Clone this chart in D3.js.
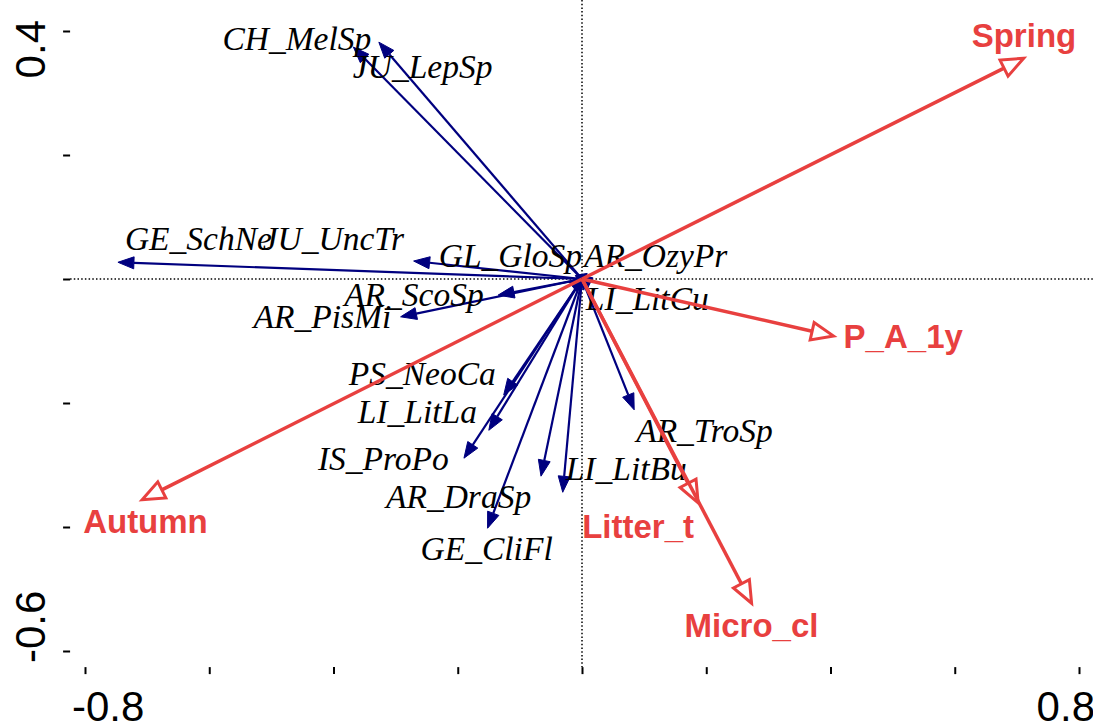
<!DOCTYPE html>
<html>
<head>
<meta charset="utf-8">
<script src="https://cdnjs.cloudflare.com/ajax/libs/d3/7.8.5/d3.min.js"></script>
<style>
  body { margin: 0; background: #fff; }
  svg { display: block; }
</style>
</head>
<body>
<svg id="chart" width="1093" height="725"></svg>
<script>
// species scores (axis 1, axis 2)
var species = ["CH_MelSp", "JU_LepSp", "GE_SchNe", "JU_UncTr", "GL_GloSp", "AR_OzyPr",
  "AR_ScoSp", "AR_PisMi", "LI_LitCu", "PS_NeoCa", "LI_LitLa", "IS_ProPo",
  "AR_DraSp", "GE_CliFl", "LI_LitBu", "AR_TroSp"];
var speciesX = [-0.368, -0.327, -0.747, -0.271, -0.010, 0.005,
  -0.135, -0.292, 0.003, -0.126, -0.150, -0.190,
  -0.066, -0.152, -0.031, 0.084];
var speciesY = [0.374, 0.382, 0.027, 0.029, 0.005, 0.004,
  -0.026, -0.061, -0.018, -0.187, -0.244, -0.289,
  -0.318, -0.402, -0.344, -0.211];

// environmental variables
var envVars = ["Spring", "P_A_1y", "Autumn", "Litter_t", "Micro_cl"];
var envX = [0.711, 0.405, -0.708, 0.187, 0.273];
var envY = [0.356, -0.092, -0.356, -0.361, -0.523];

var xTicks = [-0.8, -0.6, -0.4, -0.2, 0, 0.2, 0.4, 0.6, 0.8];
var yTicks = [-0.6, -0.4, -0.2, 0, 0.2, 0.4];

// label placement, pixels from arrow tip (start of text, baseline)
var speciesLabelOffset = {
  CH_MelSp: [-131, 3], JU_LepSp: [-26, 36], GE_SchNe: [7, -12], JU_UncTr: [-151, -11],
  GL_GloSp: [-137, -9], AR_OzyPr: [-1, -10], AR_ScoSp: [-154, 11], AR_PisMi: [-147, 11],
  LI_LitCu: [2, 20], PS_NeoCa: [-155, -10], LI_LitLa: [-131, -7], IS_ProPo: [-146, 12],
  AR_DraSp: [-155, 32], GE_CliFl: [-67, 32], LI_LitBu: [3, -12], AR_TroSp: [2, 32]
};
var envLabelOffset = {
  Spring: [-52, -11], P_A_1y: [10, 12], Autumn: [-59, 33], Litter_t: [-116, 35], Micro_cl: [-67, 34]
};

var navy = "#00007f", red = "#e8403f";

var svg = d3.select("#chart");

var x = d3.scaleLinear().domain([-0.8, 0.8]).range([85, 1079]);
var y = d3.scaleLinear().domain([-0.6, 0.4]).range([651, 31]);

var left = x(-0.824), right = x(0.83), top = y(0.426), bottom = y(-0.626);

// zero lines
svg.append("line")
  .attr("x1", left).attr("x2", right).attr("y1", y(0)).attr("y2", y(0))
  .attr("stroke", "#000").attr("stroke-width", 1.5).attr("stroke-dasharray", "1.5,2.2");
svg.append("line")
  .attr("x1", x(0)).attr("x2", x(0)).attr("y1", top).attr("y2", bottom)
  .attr("stroke", "#000").attr("stroke-width", 1.5).attr("stroke-dasharray", "1.5,2.2");

// axes (ticks only)
svg.append("g")
  .attr("transform", "translate(0," + bottom + ")")
  .call(d3.axisBottom(x).tickValues(xTicks).tickSize(7).tickFormat(""))
  .call(function(g) { g.select(".domain").remove(); })
  .selectAll("line").attr("stroke-width", 2);
svg.append("g")
  .attr("transform", "translate(" + left + ",0)")
  .call(d3.axisLeft(y).tickValues(yTicks).tickSize(7).tickFormat(""))
  .call(function(g) { g.select(".domain").remove(); })
  .selectAll("line").attr("stroke-width", 2);

// frame
svg.append("path")
  .attr("d", "M" + right + "," + top + "H" + left + "V" + bottom + "H" + right)
  .attr("fill", "none").attr("stroke", "#000").attr("stroke-width", 3);

var tickFont = "'Liberation Sans', Arial, sans-serif";
svg.append("text").attr("x", x(-0.8) - 13).attr("y", 721)
  .attr("font-family", tickFont).attr("font-size", 42).text("-0.8");
svg.append("text").attr("x", x(0.8) + 16).attr("y", 721).attr("text-anchor", "end")
  .attr("font-family", tickFont).attr("font-size", 42).text("0.8");
svg.append("text").attr("transform", "translate(45," + (y(0.4) - 11) + ") rotate(-90)")
  .attr("text-anchor", "end")
  .attr("font-family", tickFont).attr("font-size", 42).text("0.4");
svg.append("text").attr("transform", "translate(45," + (y(-0.6) + 12) + ") rotate(-90)")
  .attr("font-family", tickFont).attr("font-size", 42).text("-0.6");

function arrowGeom(vx, vy, headLen, headHalf) {
  var x0 = x(0), y0 = y(0), x1 = x(vx), y1 = y(vy);
  var dx = x1 - x0, dy = y1 - y0, len = Math.sqrt(dx * dx + dy * dy) || 1;
  var ux = dx / len, uy = dy / len;
  var bx = x1 - ux * headLen, by = y1 - uy * headLen;
  return {
    x0: x0, y0: y0, x1: x1, y1: y1, bx: bx, by: by,
    head: "M" + x1 + "," + y1 +
      "L" + (bx - uy * headHalf) + "," + (by + ux * headHalf) +
      "L" + (bx + uy * headHalf) + "," + (by - ux * headHalf) + "Z"
  };
}

// species arrows
var spData = species.map(function(name, i) { return { name: name, vx: speciesX[i], vy: speciesY[i] }; });
var sp = svg.append("g").selectAll("g").data(spData).enter().append("g");
sp.each(function(d) {
  var g = arrowGeom(d.vx, d.vy, 16, 6);
  var sel = d3.select(this);
  sel.append("line")
    .attr("x1", g.x0).attr("y1", g.y0).attr("x2", g.bx).attr("y2", g.by)
    .attr("stroke", navy).attr("stroke-width", 2.2);
  sel.append("path").attr("d", g.head).attr("fill", navy).attr("stroke", navy).attr("stroke-width", 1);
});
svg.append("g").selectAll("text").data(spData).enter().append("text")
  .attr("x", function(d) { return x(d.vx) + speciesLabelOffset[d.name][0]; })
  .attr("y", function(d) { return y(d.vy) + speciesLabelOffset[d.name][1]; })
  .attr("font-family", "'Liberation Serif', 'Times New Roman', serif")
  .attr("font-style", "italic")
  .attr("font-size", 33.5)
  .attr("fill", "#000")
  .text(function(d) { return d.name; });

// environmental arrows
var envData = envVars.map(function(name, i) { return { name: name, vx: envX[i], vy: envY[i] }; });
var ev = svg.append("g").selectAll("g").data(envData).enter().append("g");
ev.each(function(d) {
  var g = arrowGeom(d.vx, d.vy, 22, 9);
  var sel = d3.select(this);
  sel.append("line")
    .attr("x1", g.x0).attr("y1", g.y0).attr("x2", g.bx).attr("y2", g.by)
    .attr("stroke", red).attr("stroke-width", 3.5);
  sel.append("path").attr("d", g.head).attr("fill", "#fff")
    .attr("stroke", red).attr("stroke-width", 3).attr("stroke-linejoin", "miter");
});
svg.append("g").selectAll("text").data(envData).enter().append("text")
  .attr("x", function(d) { return x(d.vx) + envLabelOffset[d.name][0]; })
  .attr("y", function(d) { return y(d.vy) + envLabelOffset[d.name][1]; })
  .attr("font-family", "'Liberation Sans', Arial, sans-serif")
  .attr("font-weight", "bold")
  .attr("font-size", 33)
  .attr("fill", red)
  .text(function(d) { return d.name; });
</script>
</body>
</html>
